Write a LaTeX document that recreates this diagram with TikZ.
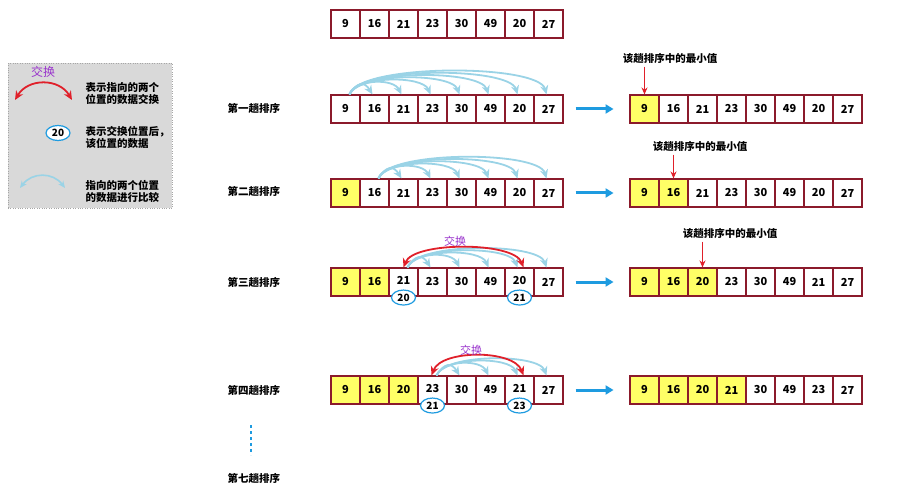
\documentclass[tikz,border=0pt]{standalone}
\usepackage{fontspec}
\setmainfont{Noto Sans CJK SC}
\usetikzlibrary{arrows.meta,shapes.geometric}
\definecolor{bord}{HTML}{8B1A2B}
\definecolor{yel}{HTML}{FFFF66}
\definecolor{lb}{HTML}{9AD3E6}
\definecolor{rd}{HTML}{E0202A}
\definecolor{pur}{HTML}{9933CC}
\definecolor{arb}{HTML}{1E9BE0}
\tikzset{
 cell/.style={draw=bord,line width=1.1pt,minimum width=29pt,minimum height=28pt,inner sep=0,font=\fontsize{11}{11}\selectfont\bfseries},
 lbl/.style={font=\fontsize{10.5}{12}\selectfont\bfseries,anchor=west},
 cmp/.style={draw=lb,line width=1.8pt,-{Stealth[length=9pt,width=8pt]}},
 swp/.style={draw=rd,line width=1.8pt,{Stealth[length=9pt,width=8pt]}-{Stealth[length=9pt,width=8pt]}},
 circ/.style={draw=arb,line width=1.2pt,ellipse,minimum width=24pt,minimum height=15pt,inner sep=0,font=\fontsize{10}{10}\selectfont\bfseries,fill=white},
 big/.style={draw=arb,line width=3pt,-{Triangle[length=8pt,width=9pt]}},
 xch/.style={text=pur,font=\fontsize{11}{11}\selectfont}
}
\newcommand{\arr}[5]{% name, x0, ytop, list, nyellow
 \foreach \v [count=\i from 0] in {#4}{
  \pgfmathsetmacro{\fillc}{\i<#5 ? "yel" : "white"}
  \node[cell,fill=\fillc] (#1\i) at ({#2+14.5+29*\i},{#3+14}) {\v};
 }}
\newcommand{\cmps}[3]{% row, from, to
 \foreach \k in {#3,...,7}{\pgfmathsetmacro{\hh}{10+3*(\k-#2)}
  \draw[cmp] ([xshift=4pt]#1#2.north) .. controls +(8,-\hh) and +(-8,-\hh) .. ([xshift=-2pt]#1\k.north);}}
\begin{document}
\begin{tikzpicture}[x=1pt,y=-1pt]
\useasboundingbox (0,0) rectangle (898,500);
% legend
\node[draw=gray!70,dotted,fill=gray!30,minimum width=164pt,minimum height=145pt,inner sep=0] (leg) at (90,135.5) {};
\coordinate (la) at (15,100); \coordinate (lb) at (72,100);
\draw[swp] (la) .. controls (28,78) and (59,78) .. (lb);
\node[xch,font=\fontsize{12}{12}\selectfont\itshape] (lx) at (43,72) {交换};
\node[lbl,align=left] (lt1) at (82,94) {表示指向的两个\\位置的数据交换};
\node[circ] (lc) at (58,133) {20};
\node[lbl,align=left] (lt2) at (82,137) {表示交换位置后，\\该位置的数据};
\coordinate (lc1) at (20,188); \coordinate (lc2) at (65,188);
\draw[draw=lb,line width=1.6pt,{Stealth[length=7pt,width=6pt]}-{Stealth[length=7pt,width=6pt]}] (lc1) .. controls (32,172) and (53,172) .. (lc2);
\node[lbl,align=left] (lt3) at (82,191) {指向的两个位置\\的数据进行比较};
% row labels
\node[lbl] (r1) at (224,108) {第一趟排序};
\node[lbl] (r2) at (224,191) {第二趟排序};
\node[lbl] (r3) at (224,282) {第三趟排序};
\node[lbl] (r4) at (224,390) {第四趟排序};
\node[lbl] (r7) at (224,478) {第七趟排序};
\coordinate (d1) at (251,425); \coordinate (d2) at (251,455);
\draw[arb,dashed,line width=1.2pt] (d1) -- (d2);
% arrays
\arr{t}{331}{10}{9,16,21,23,30,49,20,27}{0}
\arr{a}{331}{95}{9,16,21,23,30,49,20,27}{0}
\arr{b}{331}{179}{9,16,21,23,30,49,20,27}{1}
\arr{c}{331}{268}{9,16,\raisebox{4pt}{21},23,30,49,\raisebox{4pt}{20},27}{2}
\arr{d}{331}{376}{9,16,20,\raisebox{4pt}{23},30,49,\raisebox{4pt}{21},27}{3}
\arr{A}{630}{95}{9,16,21,23,30,49,20,27}{1}
\arr{B}{630}{179}{9,16,21,23,30,49,20,27}{2}
\arr{C}{630}{268}{9,16,20,23,30,49,21,27}{3}
\arr{D}{630}{376}{9,16,20,21,30,49,23,27}{4}
% big arrows
\foreach \r in {a,b,c,d}{\draw[big] (\r7.east)++(12,0) coordinate (s\r) -- ++(38,0) coordinate (e\r);}
% compare arcs
\cmps{a}{0}{1}
\cmps{b}{1}{2}
\cmps{c}{2}{3}
\cmps{d}{3}{4}
\draw[swp] ([xshift=0pt]c2.north) .. controls +(10,-26) and +(-10,-26) .. ([xshift=4pt]c6.north);
\node[xch] (x3) at (455,241) {交换};
\draw[swp] ([xshift=-1pt]d3.north) .. controls +(10,-26) and +(-10,-26) .. ([xshift=4pt]d6.north);
\node[xch] (x4) at (471,350) {交换};
% circles
\node[circ] (o1) at ([yshift=-1pt]c2.south) {20};
\node[circ] (o2) at ([yshift=-1pt]c6.south) {21};
\node[circ] (o3) at ([yshift=-1pt]d3.south) {21};
\node[circ] (o4) at ([yshift=-1pt]d6.south) {23};
% min labels
\node[lbl,anchor=center] (m1) at (670,58) {该趟排序中的最小值};
\node[lbl,anchor=center] (m2) at (700,146) {该趟排序中的最小值};
\node[lbl,anchor=center] (m3) at (730,233) {该趟排序中的最小值};
\foreach \m/\c in {m1/A0,m2/B1,m3/C2}{\draw[rd,line width=1.2pt,-{Stealth[length=7pt,width=6pt]}] (\m.south-|\c) -- (\c.north);}
\end{tikzpicture}
\end{document}
